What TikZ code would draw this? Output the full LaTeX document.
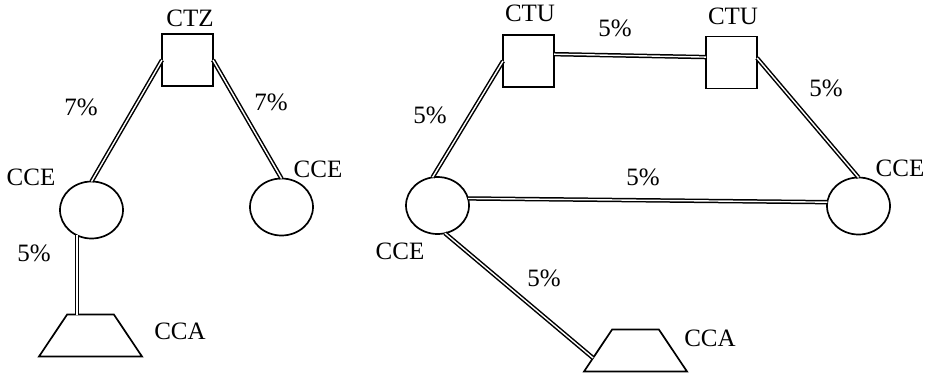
\documentclass[tikz,border=0pt]{standalone}
\usepackage{fontspec}
\setmainfont{Liberation Serif}
\usetikzlibrary{shapes.geometric}
\begin{document}
\begin{tikzpicture}[x=1pt,y=-1pt,
  every node/.style={inner sep=0pt,outer sep=0pt},
  lbl/.style={font=\fontsize{25}{30}\selectfont, text depth=0pt},
  sq/.style={draw, line width=1.7pt, rectangle, minimum width=51pt, minimum height=52pt},
  ell/.style={draw, line width=1.7pt, ellipse, minimum width=63pt, minimum height=57pt},
  trap/.style={draw, line width=1.7pt, trapezium, trapezium stretches=true, inner sep=1pt,
     trapezium left angle=59, trapezium right angle=59, minimum width=103pt, minimum height=42pt},
  link/.style={double, line width=1.5pt, double distance=1.4pt}
]
\useasboundingbox (0,0) rectangle (934,376);
% left part
\node[sq]   (ctz)  at (187.5,60) {};
\node[ell]  (ceL)  at (91.5,210) {};
\node[ell]  (ceR)  at (281.5,207) {};
\node[trap] (caL)  at (90.5,335.5) {};
\draw[link] (ctz.west) -- (ceL.north);
\draw[link] (ctz.east) -- (ceR.north);
\draw[link] (ceL.240) -- (ceL.240 |- caL.north);
\node[lbl] (tctz) at (190,18) {CTZ};
\node[lbl] (p1) at (81,107) {7\%};
\node[lbl] (p2) at (271,102) {7\%};
\node[lbl] (tceL) at (31,177) {CCE};
\node[lbl] (tceR) at (318,169) {CCE};
\node[lbl] (p3) at (34,253) {5\%};
\node[lbl] (tcaL) at (180,331) {CCA};
% right part
\node[sq]   (ctuL) at (528.5,61) {};
\node[sq]   (ctuR) at (731.5,62.5) {};
\node[ell]  (ce2)  at (437.5,205.5) {};
\node[ell]  (ce3)  at (858.5,206) {};
\node[trap] (caR)  at (635.5,350.5) {};
\draw[link] (ctuL.15) -- (ctuR.168);
\draw[link] (ctuL.west) -- (ce2.100);
\draw[link] (ctuR.10) -- (ce3.north);
\draw[link] (ce2.13) -- (ce3.173);
\draw[link] (ce2.-75) -- (caR.190);
\node[lbl] (tctuL) at (530,13) {CTU};
\node[lbl] (tctuR) at (733,16) {CTU};
\node[lbl] (p4) at (615,28) {5\%};
\node[lbl] (p5) at (826,88) {5\%};
\node[lbl] (p6) at (430,115) {5\%};
\node[lbl] (p7) at (643,177) {5\%};
\node[lbl] (p8) at (544,278) {5\%};
\node[lbl] (tce2) at (400,251) {CCE};
\node[lbl] (tce3) at (900,168) {CCE};
\node[lbl] (tcaR) at (710,338) {CCA};
\end{tikzpicture}
\end{document}
